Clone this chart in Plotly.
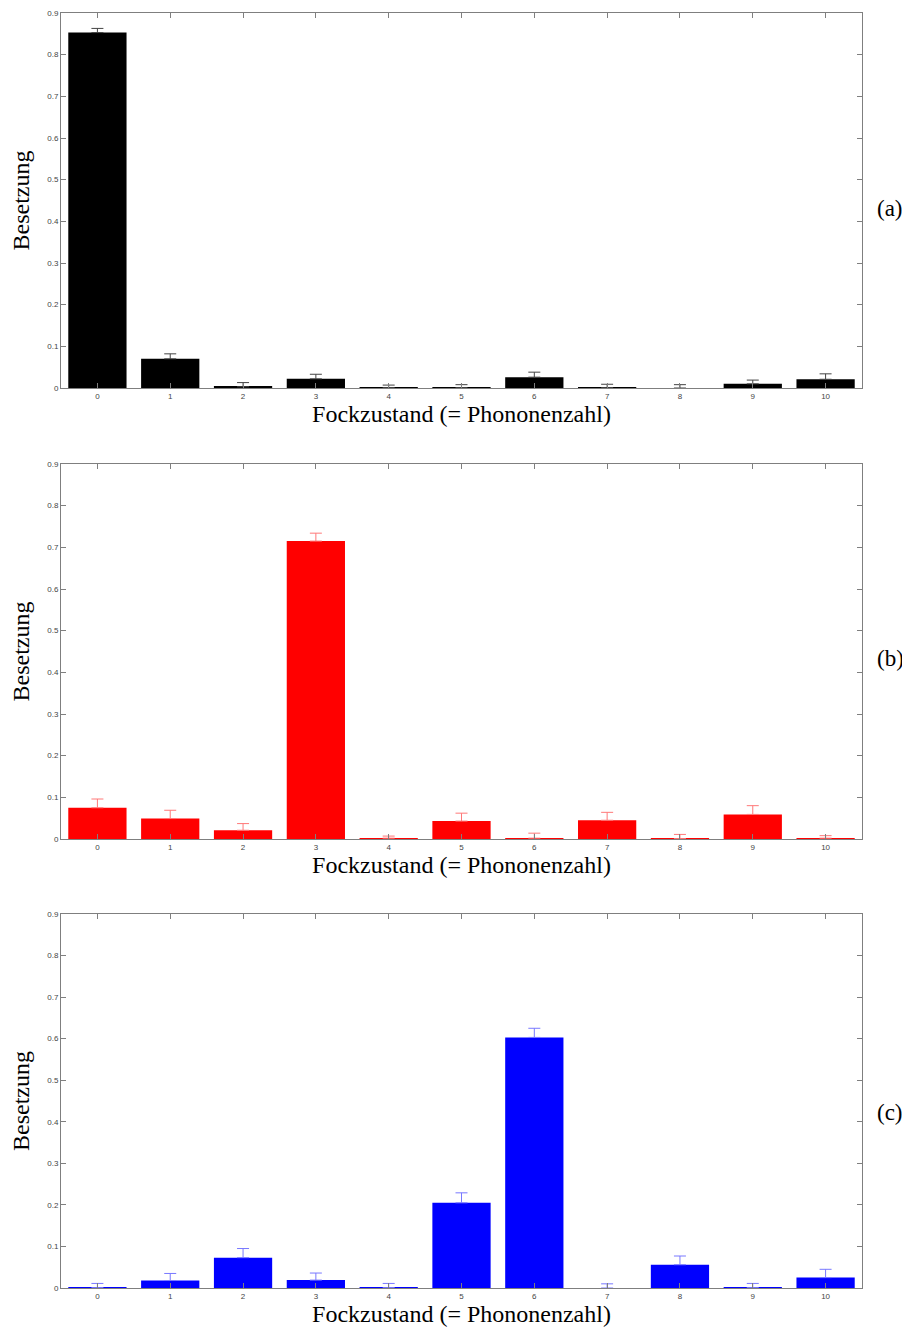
import plotly.graph_objects as go
from plotly.subplots import make_subplots

fock_states = [0, 1, 2, 3, 4, 5, 6, 7, 8, 9, 10]

# (a) ground state
pop_a = [0.853, 0.070, 0.003, 0.022, 0.001, 0.001, 0.026, 0.001, 0.000, 0.010, 0.021]
err_a = [0.010, 0.012, 0.010, 0.011, 0.006, 0.007, 0.012, 0.008, 0.008, 0.009, 0.013]
# (b) Fock state 3
pop_b = [0.075, 0.049, 0.021, 0.715, 0.002, 0.043, 0.002, 0.045, 0.001, 0.059, 0.002]
err_b = [0.021, 0.020, 0.016, 0.019, 0.005, 0.019, 0.012, 0.019, 0.010, 0.021, 0.006]
# (c) Fock state 6
pop_c = [0.001, 0.018, 0.073, 0.019, 0.001, 0.205, 0.603, 0.000, 0.056, 0.001, 0.025]
err_c = [0.010, 0.017, 0.022, 0.017, 0.010, 0.024, 0.022, 0.010, 0.021, 0.010, 0.020]

panel_labels = ["(a)", "(b)", "(c)"]
bar_colors = ["#000000", "#ff0000", "#0000ff"]
err_colors = ["#444444", "#ff7878", "#7878ff"]

x_title = "Fockzustand (= Phononenzahl)"
y_title = "Besetzung"

fig = make_subplots(rows=3, cols=1)

pops = [pop_a, pop_b, pop_c]
errs = [err_a, err_b, err_c]
for i in range(3):
    fig.add_trace(
        go.Bar(
            x=fock_states,
            y=pops[i],
            width=0.8,
            marker=dict(color=bar_colors[i], line=dict(width=0)),
            error_y=dict(
                type="data",
                symmetric=False,
                array=errs[i],
                arrayminus=[0] * len(errs[i]),
                color=err_colors[i],
                thickness=1,
                width=6,
            ),
            showlegend=False,
        ),
        row=i + 1,
        col=1,
    )

# page body has an 8px margin, so the figure is offset by 8px
W, H = 902, 1323
off = 8
left_m, right_m = 61 - off, W - (862 - off)
top_m, bot_m = 13 - off, H - (1288 - off)
plot_h = H - top_m - bot_m
panels_px = [(13, 388), (464, 839), (914, 1288)]
domains = [[1 - (b - 13) / plot_h, 1 - (t - 13) / plot_h] for t, b in panels_px]
label_shift = [-8, -7, -11]

serif = "Liberation Serif, DejaVu Serif, serif"
sans = "Liberation Sans, Arial, sans-serif"
for i in range(3):
    ax_suffix = "" if i == 0 else str(i + 1)
    fig.layout["xaxis" + ax_suffix].update(
        range=[-0.5, 10.5],
        tickmode="array",
        tickvals=fock_states,
        ticktext=[str(v) for v in fock_states],
        ticks="inside",
        ticklen=5,
        tickcolor="#7f7f7f",
        showline=True,
        linecolor="#7f7f7f",
        linewidth=1,
        mirror="ticks",
        showgrid=False,
        zeroline=False,
        tickfont=dict(family=sans, size=8, color="#444444"),
        title=dict(text=x_title, font=dict(family=serif, size=24, color="#000000"), standoff=1),
    )
    fig.layout["yaxis" + ax_suffix].update(
        domain=domains[i],
        range=[0, 0.9],
        tickmode="array",
        tickvals=[0, 0.1, 0.2, 0.3, 0.4, 0.5, 0.6, 0.7, 0.8, 0.9],
        ticktext=["0", "0.1", "0.2", "0.3", "0.4", "0.5", "0.6", "0.7", "0.8", "0.9"],
        ticks="inside",
        ticklen=5,
        tickcolor="#7f7f7f",
        showline=True,
        linecolor="#7f7f7f",
        linewidth=1,
        mirror="ticks",
        showgrid=False,
        zeroline=False,
        tickfont=dict(family=sans, size=8, color="#444444"),
        title=dict(text=y_title, font=dict(family=serif, size=24, color="#000000"), standoff=10),
    )
    fig.add_annotation(
        text=panel_labels[i],
        xref="paper",
        yref="paper",
        x=1.0 + 28 / (W - left_m - right_m),
        y=(domains[i][0] + domains[i][1]) / 2,
        yshift=label_shift[i],
        xanchor="center",
        yanchor="middle",
        showarrow=False,
        font=dict(family=serif, size=23, color="#000000"),
    )

fig.update_layout(
    width=W,
    height=H,
    margin=dict(l=left_m, r=right_m, t=top_m, b=bot_m, autoexpand=False),
    paper_bgcolor="#ffffff",
    plot_bgcolor="#ffffff",
    bargap=0.2,
)

fig.write_html("out.html")
